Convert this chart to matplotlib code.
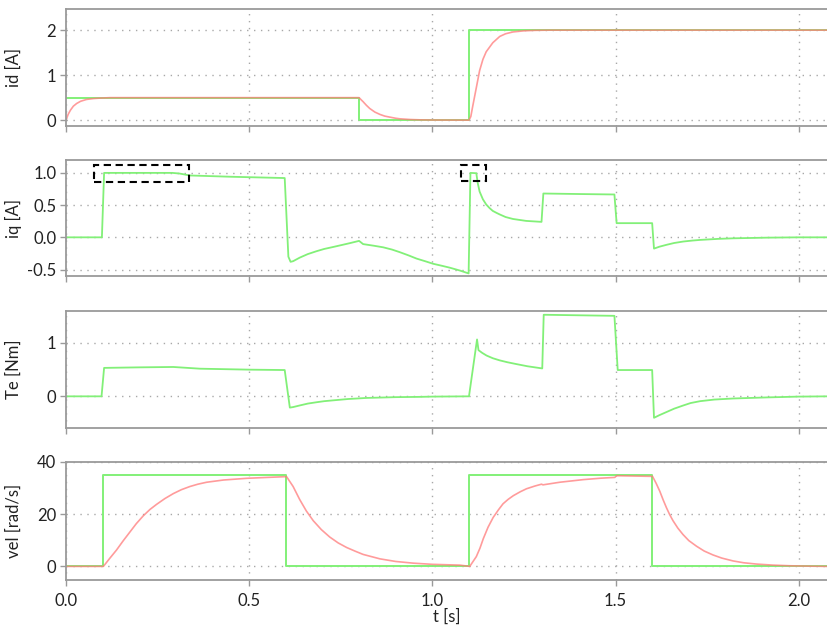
import numpy as np
import matplotlib
matplotlib.use('Agg')
import matplotlib.pyplot as plt
from matplotlib.patches import Rectangle

# d-axis current: reference (green) and measured (red)
id_ref_t = [0.0, 0.8, 0.8, 1.1, 1.1, 2.08]
id_ref_v = [0.5, 0.5, 0.0, 0.0, 2.0, 2.0]
id_t = [0.0, 0.006, 0.012, 0.02, 0.029, 0.04, 0.056, 0.075, 0.093, 0.12, 0.8,
        0.806, 0.811, 0.82, 0.829, 0.843, 0.857, 0.87, 0.884, 0.9, 0.911, 0.94, 0.966, 1.0, 1.1,
        1.105, 1.11, 1.12, 1.129, 1.138, 1.147, 1.165, 1.184, 1.2, 1.22, 1.25, 1.28, 1.32, 2.08]
id_v = [0.0, 0.13, 0.22, 0.31, 0.37, 0.42, 0.46, 0.48, 0.49, 0.5, 0.5,
        0.45, 0.41, 0.33, 0.26, 0.18, 0.127, 0.09, 0.067, 0.042, 0.03, 0.014, 0.007, 0.003, 0.0,
        0.08, 0.3, 0.72, 1.1, 1.35, 1.52, 1.72, 1.86, 1.92, 1.96, 1.985, 1.995, 2.0, 2.0]

# q-axis current
iq_t = [0.0, 0.098, 0.104, 0.29, 0.31, 0.338, 0.45, 0.597, 0.607, 0.613, 0.62,
        0.638, 0.66, 0.684, 0.705, 0.729, 0.752, 0.775, 0.8, 0.811, 0.84, 0.866, 0.89, 0.911,
        0.935, 0.957, 0.98, 1.002, 1.025, 1.047, 1.075, 1.099, 1.104, 1.12, 1.124, 1.129,
        1.138, 1.147, 1.156, 1.165, 1.175, 1.184, 1.2, 1.22, 1.256, 1.298, 1.303, 1.4,
        1.497, 1.503, 1.6, 1.605, 1.62, 1.64, 1.66, 1.685, 1.71, 1.731, 1.78, 1.822,
        1.913, 2.0, 2.08]
iq_v = [0.0, 0.0, 1.0, 1.0, 0.99, 0.96, 0.94, 0.92, -0.3, -0.38, -0.37,
        -0.315, -0.26, -0.215, -0.18, -0.15, -0.12, -0.09, -0.055, -0.105, -0.13, -0.155, -0.19,
        -0.23, -0.28, -0.33, -0.37, -0.41, -0.44, -0.47, -0.515, -0.56, 1.0, 0.995, 0.84,
        0.71, 0.59, 0.51, 0.455, 0.41, 0.38, 0.355, 0.315, 0.285, 0.255, 0.24, 0.68, 0.672,
        0.665, 0.22, 0.22, -0.175, -0.145, -0.115, -0.088, -0.065, -0.05, -0.04, -0.024,
        -0.015, -0.005, 0.0, 0.0]

# electromagnetic torque
te_t = [0.0, 0.097, 0.104, 0.2, 0.293, 0.366, 0.502, 0.597, 0.611, 0.62, 0.638,
        0.66, 0.684, 0.705, 0.729, 0.77, 0.82, 0.9, 0.966, 1.0, 1.1, 1.122, 1.126, 1.136,
        1.148, 1.165, 1.184, 1.205, 1.23, 1.26, 1.3, 1.304, 1.4, 1.497, 1.506, 1.6, 1.605,
        1.62, 1.64, 1.66, 1.685, 1.705, 1.731, 1.77, 1.822, 1.913, 2.0, 2.08]
te_v = [0.0, 0.0, 0.53, 0.54, 0.547, 0.515, 0.497, 0.49, -0.21, -0.2, -0.17,
        -0.135, -0.11, -0.09, -0.075, -0.05, -0.03, -0.015, -0.01, -0.005, 0.0, 1.06, 0.86, 0.81,
        0.76, 0.71, 0.67, 0.635, 0.6, 0.56, 0.52, 1.52, 1.51, 1.5, 0.49, 0.49, -0.4,
        -0.35, -0.29, -0.23, -0.17, -0.125, -0.09, -0.06, -0.04, -0.02, -0.005, 0.0]

# rotor speed: reference (green) and measured (red)
vel_ref_t = [0.0, 0.1, 0.1, 0.6, 0.6, 1.1, 1.1, 1.6, 1.6, 2.08]
vel_ref_v = [0.0, 0.0, 35.0, 35.0, 0.0, 0.0, 35.0, 35.0, 0.0, 0.0]
vel_t = [0.0, 0.102, 0.12, 0.138, 0.156, 0.174, 0.192, 0.211, 0.229, 0.247, 0.27,
         0.293, 0.315, 0.338, 0.36, 0.384, 0.43, 0.493, 0.55, 0.602, 0.62, 0.638, 0.656,
         0.675, 0.697, 0.72, 0.743, 0.766, 0.79, 0.811, 0.857, 0.9, 0.948, 1.0, 1.075, 1.102,
         1.12, 1.13, 1.139, 1.152, 1.166, 1.18, 1.193, 1.207, 1.221, 1.24, 1.257, 1.28, 1.298,
         1.302, 1.348, 1.412, 1.46, 1.498, 1.503, 1.598, 1.601, 1.611, 1.621, 1.63, 1.639,
         1.648, 1.657, 1.67, 1.684, 1.7, 1.721, 1.742, 1.766, 1.79, 1.821, 1.85, 1.885,
         1.93, 1.976, 2.03, 2.08]
vel_v = [0.0, 0.0, 3.2, 6.3, 9.8, 13.1, 16.4, 19.4, 21.8, 23.75, 26.0,
         27.9, 29.4, 30.6, 31.5, 32.25, 33.1, 33.75, 34.1, 34.4, 30.6, 25.6, 21.25,
         17.5, 14.1, 11.25, 9.0, 7.25, 5.8, 4.6, 2.9, 1.9, 1.25, 0.8, 0.5, 0.0,
         3.75, 7.0, 10.6, 15.0, 18.75, 21.6, 24.0, 25.7, 27.1, 28.6, 29.75, 30.8, 31.5,
         31.25, 32.25, 33.25, 33.8, 34.1, 34.75, 34.5, 34.5, 31.8, 28.75, 25.5, 22.5,
         19.8, 17.5, 14.7, 12.25, 9.9, 7.75, 5.9, 4.4, 3.2, 2.1, 1.4, 0.9,
         0.5, 0.25, 0.1, 0.0]

# dashed highlight boxes on the iq panel: (t0, t1, lo, hi)
iq_boxes = [(0.076, 0.336, 0.86, 1.12), (1.078, 1.146, 0.87, 1.12)]

GREEN = '#82f078'
RED = '#ff7a7a'
SPINE = '#9a9a9a'
TEXT = '#222222'

plt.rcParams['font.family'] = ['Lato', 'DejaVu Sans']
plt.rcParams['font.size'] = 12


def style_axis(ax, ylabel, yticks, ylim, fmt, show_x):
    ax.set_xlim(0, 2.08)
    ax.set_ylim(*ylim)
    ax.set_yticks(yticks)
    ax.set_yticklabels([fmt.format(v) for v in yticks], color=TEXT)
    ax.set_xticks([0.0, 0.5, 1.0, 1.5, 2.0])
    if show_x:
        ax.set_xticklabels(['0.0', '0.5', '1.0', '1.5', '2.0'], color=TEXT)
        ax.set_xlabel('t [s]', color=TEXT, labelpad=0)
    else:
        ax.set_xticklabels([])
    ax.set_ylabel(ylabel, color=TEXT, fontsize=12)
    ax.yaxis.set_label_coords(-0.058, 0.5)
    ax.tick_params(axis='y', length=4, width=1, color=SPINE, pad=3)
    ax.tick_params(axis='x', length=4, width=1, color=SPINE, pad=5)
    for side in ['left', 'top', 'bottom']:
        ax.spines[side].set_color(SPINE)
        ax.spines[side].set_linewidth(1.3)
    ax.spines['right'].set_visible(False)
    ax.grid(True, color='#a8a8a8', linestyle=(0, (1, 4)), linewidth=1)
    ax.set_axisbelow(True)


fig = plt.figure(figsize=(8.28, 6.3), dpi=100)
left, width = 66 / 828, 1 - 66 / 828
rows = [(9, 126), (160, 276), (311, 428), (462, 580)]
axes = [fig.add_axes([left, 1 - b / 630, width, (b - t) / 630]) for t, b in rows]

ax = axes[0]
ax.plot(id_ref_t, id_ref_v, color=GREEN, lw=1.4)
ax.plot(id_t, id_v, color=RED, lw=1.2, alpha=0.75)
style_axis(ax, 'id [A]', [0, 1, 2], (-0.13, 2.47), '{:g}', False)

ax = axes[1]
ax.plot(iq_t, iq_v, color=GREEN, lw=1.3)
for t0, t1, lo, hi in iq_boxes:
    ax.add_patch(Rectangle((t0, lo), t1 - t0, hi - lo, fill=False, edgecolor='black',
                           linewidth=1.5, linestyle=(0, (3.5, 2.2)), zorder=5))
style_axis(ax, 'iq [A]', [-0.5, 0.0, 0.5, 1.0], (-0.6, 1.2), '{:.1f}', False)

ax = axes[2]
ax.plot(te_t, te_v, color=GREEN, lw=1.3)
style_axis(ax, 'Te [Nm]', [0, 1], (-0.59, 1.59), '{:g}', False)

ax = axes[3]
ax.plot(vel_ref_t, vel_ref_v, color=GREEN, lw=1.4)
ax.plot(vel_t, vel_v, color=RED, lw=1.2, alpha=0.75)
style_axis(ax, 'vel [rad/s]', [0, 20, 40], (-5.2, 40), '{:g}', True)

fig.savefig('out.png', dpi=100)
